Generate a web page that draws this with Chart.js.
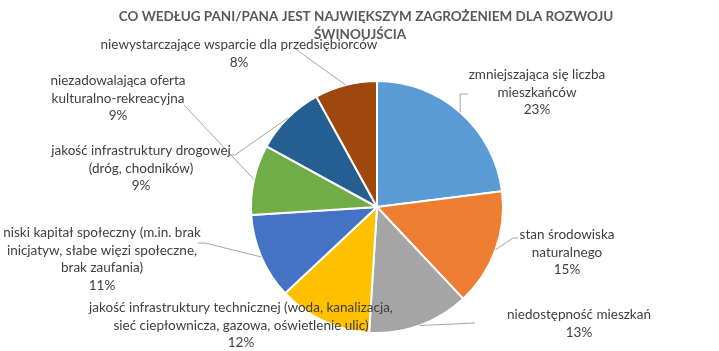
<!DOCTYPE html>
<html>
<head>
<meta charset="utf-8">
<script src="https://cdn.jsdelivr.net/npm/chart.js@4.4.0/dist/chart.umd.min.js"></script>
<style>
html,body{margin:0;padding:0;background:#fff;}
#wrap{width:719px;height:351px;position:relative;}
</style>
</head>
<body>
<div id="wrap"><canvas id="c"></canvas></div>
<script>
// ---- data ----
const titleLines = ["CO WEDŁUG PANI/PANA JEST NAJWIĘKSZYM ZAGROŻENIEM DLA ROZWOJU", "ŚWINOUJŚCIA"];
const categories = [
  "zmniejszająca się liczba\nmieszkańców",
  "stan środowiska\nnaturalnego",
  "niedostępność mieszkań",
  "jakość infrastruktury technicznej (woda, kanalizacja,\nsieć ciepłownicza, gazowa, oświetlenie ulic)",
  "niski kapitał społeczny (m.in. brak\ninicjatyw, słabe więzi społeczne,\nbrak zaufania)",
  "niezadowalająca oferta\nkulturalno-rekreacyjna",
  "jakość infrastruktury drogowej\n(dróg, chodników)",
  "niewystarczające wsparcie dla przedsiębiorców"
];
const values = [23, 15, 13, 12, 11, 9, 9, 8];

// ---- styles / layout ----
const colors = ["#5B9BD5", "#ED7D31", "#A5A5A5", "#FFC000", "#4472C4", "#70AD47", "#255E91", "#9E480E"];
const labelLayout = [
  {x: 537, y: 75,  leader: [[460, 94], [468, 94]]},
  {x: 567, y: 235, leader: [[513, 238], [518, 238]]},
  {x: 579, y: 315, leader: [[475, 323]]},
  {x: 241, y: 308, leader: []},
  {x: 102, y: 233, leader: [[205, 243], [198, 243]]},
  {x: 118, y: 81,  leader: [[184, 105]]},
  {x: 141, y: 151, leader: [[235, 155], [229, 155]]},
  {x: 239, y: 45,  leader: [[294, 48]]}
];
const FONT = "Lato";
const LINE_H = 17.5;

function fitSize(ctx, text, weight, target, base) {
  ctx.font = weight + " " + base + "px " + FONT;
  const w = ctx.measureText(text).width;
  return Math.round(base * target / w * 4) / 4;
}

const labelPlugin = {
  id: "pieLabels",
  afterDraw(chart) {
    const ctx = chart.ctx;
    const meta = chart.getDatasetMeta(0);
    ctx.save();
    // title
    const ts = fitSize(ctx, titleLines[0], "bold", 497, 14);
    ctx.font = "bold " + ts + "px " + FONT;
    ctx.fillStyle = "#595959";
    ctx.textAlign = "center";
    ctx.textBaseline = "middle";
    ctx.fillText(titleLines[0], 366, 17);
    ctx.fillText(titleLines[1], 360, 35);

    const ls = fitSize(ctx, categories[7], "normal", 275, 12);
    meta.data.forEach((arc, i) => {
      const L = labelLayout[i];
      const p = arc.getProps(["x", "y", "startAngle", "endAngle", "outerRadius"], true);
      const mid = (p.startAngle + p.endAngle) / 2;
      if (L.leader.length) {
        ctx.beginPath();
        ctx.strokeStyle = "#A6A6A6";
        ctx.lineWidth = 1;
        ctx.moveTo(p.x + Math.cos(mid) * p.outerRadius, p.y + Math.sin(mid) * p.outerRadius);
        L.leader.forEach(pt => ctx.lineTo(pt[0], pt[1]));
        ctx.stroke();
      }
      const lines = categories[i].split("\n").concat([values[i] + "%"]);
      ctx.font = ls + "px " + FONT;
      ctx.fillStyle = "#404040";
      ctx.textAlign = "center";
      ctx.textBaseline = "middle";
      lines.forEach((t, k) => ctx.fillText(t, L.x, L.y + k * LINE_H));
    });
    ctx.restore();
  }
};

new Chart(document.getElementById("c"), {
  type: "pie",
  data: {
    labels: categories,
    datasets: [{
      data: values,
      backgroundColor: colors,
      borderColor: "#FFFFFF",
      borderWidth: 2
    }]
  },
  options: {
    responsive: true,
    maintainAspectRatio: false,
    animation: false,
    layout: {padding: {top: 80, bottom: 17, left: 250, right: 215}},
    plugins: {legend: {display: false}, tooltip: {enabled: false}, title: {display: false}}
  },
  plugins: [labelPlugin]
});
</script>
</body>
</html>
